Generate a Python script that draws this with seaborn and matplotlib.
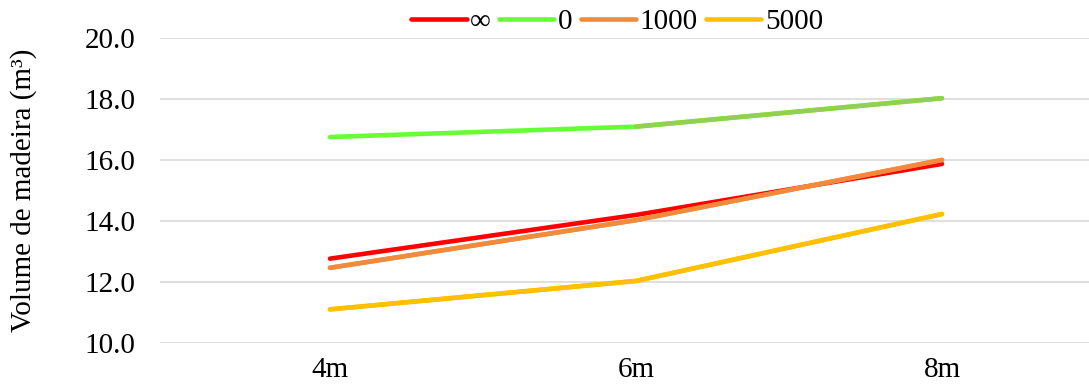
import matplotlib
matplotlib.use("Agg")
import matplotlib.pyplot as plt
import seaborn as sns
import pandas as pd

categories = ["4m", "6m", "8m"]
series_names = ["∞", "0", "1000", "5000"]
vals_inf = [12.77, 14.20, 15.87]
vals_0 = [16.75, 17.09, 18.02]
vals_1000 = [12.47, 14.03, 16.00]
vals_5000 = [11.11, 12.04, 14.23]
colors = ["#FF0000", "#66FF33", "#F28A3C", "#FFC000"]
green_seg_color = "#92D050"
yticks = [10.0, 12.0, 14.0, 16.0, 18.0, 20.0]

rows = []
for name, vals in zip(series_names, [vals_inf, vals_0, vals_1000, vals_5000]):
    for i, (c, v) in enumerate(zip(categories, vals)):
        rows.append({"pos": i, "cat": c, "serie": name, "value": v})
df = pd.DataFrame(rows)

sns.set_style("white")
plt.rcParams["font.family"] = ["Liberation Serif", "DejaVu Serif"]
plt.rcParams["text.color"] = "black"
plt.rcParams["axes.labelcolor"] = "black"
plt.rcParams["xtick.color"] = "black"
plt.rcParams["ytick.color"] = "black"

FS = 21
LW = 3.3

fig = plt.figure(figsize=(10.89, 3.90), dpi=100)
ax = fig.add_axes([160 / 1089, 1 - 343.3 / 390, 1 - 160 / 1089, (343.3 - 37.7) / 390])

sns.lineplot(data=df, x="pos", y="value", hue="serie", hue_order=series_names,
             palette=colors, linewidth=LW, sort=False, ax=ax,
             solid_capstyle="round", solid_joinstyle="round")
# second segment of series "0" in a different colour
seg = df[(df["serie"] == "0") & (df["pos"] >= 1)]
sns.lineplot(data=seg, x="pos", y="value", color=green_seg_color, linewidth=LW,
             sort=False, ax=ax, solid_capstyle="round", legend=False)
# redraw later series above it so z-order matches
for name, col in zip(series_names[2:], colors[2:]):
    sub = df[df["serie"] == name]
    sns.lineplot(data=sub, x="pos", y="value", color=col, linewidth=LW,
                 sort=False, ax=ax, solid_capstyle="round", legend=False)

ax.set_xlim((160 - 330) / 306, (1089 - 330) / 306)
ax.set_ylim(10, 20)
ax.set_xticks(range(len(categories)))
ax.set_xticklabels(categories)
ax.set_yticks(yticks)
ax.set_yticklabels([f"{t:.1f}" for t in yticks])
ax.tick_params(axis="both", length=0, labelsize=FS, labelcolor="black")
ax.tick_params(axis="x", pad=10)
ax.tick_params(axis="y", pad=18)
ax.grid(axis="y", color="#D9D9D9", linewidth=1.2)
ax.set_axisbelow(True)
for s in ax.spines.values():
    s.set_visible(False)
ax.set_xlabel("")
ax.set_ylabel("Volume de madeira (m³)", fontsize=FS, color="black")
ax.yaxis.set_label_coords(-(160 - 37) / 929, 0.5)

handles, labels = ax.get_legend_handles_labels()
if ax.legend_:
    ax.legend_.remove()
leg = fig.legend(handles[:4], labels[:4], loc="center", ncol=4, frameon=False,
                 bbox_to_anchor=(617 / 1089, 1 - 22 / 390), fontsize=FS,
                 handlelength=1.9, handletextpad=0.12, columnspacing=0.28,
                 borderaxespad=0, borderpad=0, labelcolor="black")
for h in leg.get_lines():
    h.set_linewidth(LW)
    h.set_solid_capstyle("round")

fig.savefig("out.png", dpi=100)
